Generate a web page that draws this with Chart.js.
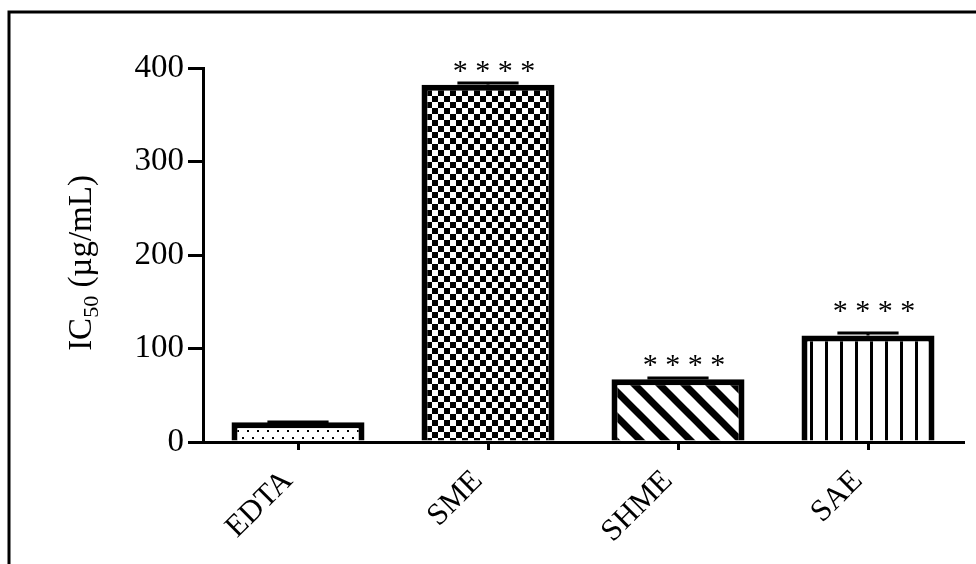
<!DOCTYPE html>
<html>
<head>
<meta charset="utf-8">
<script src="https://cdn.jsdelivr.net/npm/chart.js@4/dist/chart.umd.min.js"></script>
<style>
  html, body { margin: 0; padding: 0; background: #fff; }
  #myChart { display: block; }
</style>
</head>
<body>
<canvas id="myChart" width="976" height="564"></canvas>
<script>
// data
const categories = ['EDTA', 'SME', 'SHME', 'SAE'];
const ic50 = [21, 382, 67, 114];
const errors = [0.5, 2, 1.5, 2.5];
const stars = ['', '****', '****', '****'];
const starPos = [null, 401, 86, 144];   // height of the stars, in axis units
const yTicks = [0, 100, 200, 300, 400];

const serif = '"Liberation Serif", "Times New Roman", serif';

// fill patterns
function makeTile(w, h, draw) {
  const c = document.createElement('canvas');
  c.width = w; c.height = h;
  const g = c.getContext('2d');
  g.fillStyle = '#fff';
  g.fillRect(0, 0, w, h);
  g.fillStyle = '#000';
  g.strokeStyle = '#000';
  draw(g);
  return document.createElement('canvas').getContext('2d').createPattern(c, 'repeat');
}

const dots = makeTile(10, 14, g => {
  g.fillRect(2, 3, 2, 2);
  g.fillRect(7, 10, 2, 2);
});
const checker = makeTile(12, 12, g => {
  g.fillRect(0, 0, 6, 6);
  g.fillRect(6, 6, 6, 6);
});
const stripes = makeTile(25, 25, g => {
  g.lineWidth = 7;
  for (let k = -1; k <= 1; k++) {
    g.beginPath();
    g.moveTo(k * 25 - 5, -5);
    g.lineTo(k * 25 + 30, 30);
    g.stroke();
  }
});
const vlines = makeTile(15, 4, g => {
  g.fillRect(0, 0, 3, 4);
});

const extras = {
  id: 'extras',
  afterDatasetsDraw(chart) {
    const ctx = chart.ctx;
    const y = chart.scales.y;
    const meta = chart.getDatasetMeta(0);
    ctx.save();
    ctx.strokeStyle = '#000';
    ctx.lineWidth = 3;
    meta.data.forEach((bar, i) => {
      if (!errors[i]) return;
      const top = y.getPixelForValue(ic50[i] + errors[i]);
      const half = bar.width * 0.23;
      ctx.beginPath();
      ctx.moveTo(bar.x, y.getPixelForValue(ic50[i]));
      ctx.lineTo(bar.x, top);
      ctx.moveTo(bar.x - half, top);
      ctx.lineTo(bar.x + half, top);
      ctx.stroke();
    });
    ctx.restore();
  },
  afterDraw(chart) {
    const ctx = chart.ctx;
    const y = chart.scales.y;
    const meta = chart.getDatasetMeta(0);
    ctx.save();
    // significance stars
    ctx.fillStyle = '#000';
    ctx.font = '30px ' + serif;
    ctx.textAlign = 'center';
    ctx.textBaseline = 'middle';
    meta.data.forEach((bar, i) => {
      if (!stars[i]) return;
      ctx.fillText(stars[i].split('').join(' '), bar.x + 6, y.getPixelForValue(starPos[i]) + 5);
    });

    // y title with subscript
    ctx.translate(80, 263);
    ctx.rotate(-Math.PI / 2);
    const big = '33px ' + serif, small = '22px ' + serif;
    ctx.font = big;
    const w1 = ctx.measureText('IC').width;
    const w3 = ctx.measureText(' (\u00b5g/mL)').width;
    ctx.font = small;
    const w2 = ctx.measureText('50').width;
    let x = -(w1 + w2 + w3) / 2;
    ctx.textAlign = 'left';
    ctx.textBaseline = 'alphabetic';
    ctx.font = big;
    ctx.fillText('IC', x, 11);
    x += w1;
    ctx.font = small;
    ctx.fillText('50', x, 18);
    x += w2;
    ctx.font = big;
    ctx.fillText(' (\u00b5g/mL)', x, 11);
    ctx.restore();

    // frame of the figure
    ctx.save();
    ctx.strokeStyle = '#000';
    ctx.lineWidth = 3;
    ctx.beginPath();
    ctx.moveTo(9, 564);
    ctx.lineTo(9, 12);
    ctx.lineTo(976, 12);
    ctx.stroke();
    ctx.restore();
  }
};

new Chart(document.getElementById('myChart'), {
  type: 'bar',
  data: {
    labels: categories,
    datasets: [{
      data: ic50,
      backgroundColor: [dots, checker, stripes, vlines],
      borderColor: '#000',
      borderWidth: 6,
      barPercentage: 0.7,
      categoryPercentage: 1
    }]
  },
  options: {
    responsive: false,
    animation: false,
    layout: { padding: { left: 0, top: 68, right: 13, bottom: 0 } },
    plugins: {
      legend: { display: false },
      tooltip: { enabled: false }
    },
    scales: {
      x: {
        afterFit(scale) { scale.height = 122; },
        border: { display: true, color: '#000', width: 3 },
        grid: { display: true, drawOnChartArea: false, offset: false, tickLength: 8, color: '#000', lineWidth: 3 },
        ticks: {
          color: '#000',
          font: { family: serif, size: 31 },
          minRotation: 45,
          maxRotation: 45,
          labelOffset: -10,
          padding: 13
        }
      },
      y: {
        min: 0,
        max: 400,
        afterFit(scale) { scale.width = 203; },
        afterBuildTicks(scale) { scale.ticks = yTicks.map(v => ({ value: v })); },
        border: { display: true, color: '#000', width: 3 },
        grid: { display: true, drawOnChartArea: false, tickLength: 15, color: '#000', lineWidth: 3 },
        ticks: {
          color: '#000',
          font: { family: serif, size: 33 },
          padding: 4
        }
      }
    }
  },
  plugins: [extras]
});
</script>
</body>
</html>
